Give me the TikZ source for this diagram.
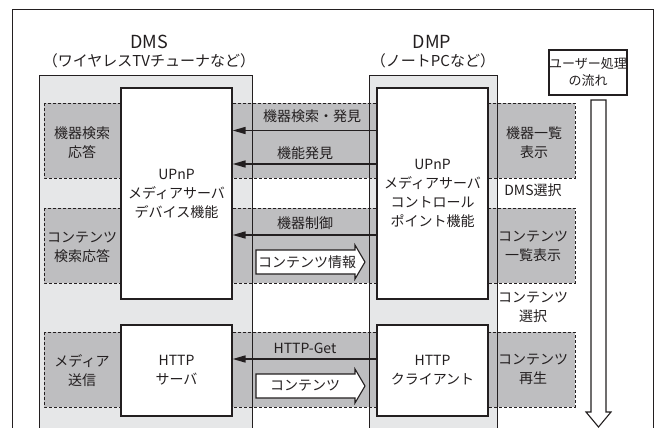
\documentclass[tikz,border=0pt]{standalone}
\usepackage{fontspec}
\setmainfont{Noto Sans CJK JP}
\usetikzlibrary{arrows.meta}
\definecolor{ink}{RGB}{35,31,32}
\definecolor{boxgray}{RGB}{230,231,232}
\definecolor{bandgray}{RGB}{190,190,192}
\tikzset{
  txt/.style={font=\fontsize{14}{19}\selectfont, text=ink, align=center, inner sep=0pt},
  title/.style={font=\fontsize{18}{22}\selectfont, text=ink, inner sep=0pt},
  subtitle/.style={font=\fontsize{15}{19}\selectfont, text=ink, inner sep=0pt},
  container/.style={fill=boxgray},
  containerline/.style={draw=ink, line width=1pt},
  band/.style={fill=bandgray, draw=ink, line width=0.9pt, dash pattern=on 3pt off 2pt},
  whitebox/.style={draw=ink, fill=white, line width=1.2pt, txt, minimum width=111pt},
  arr/.style={draw=ink, line width=1.6pt, -{Triangle[length=13pt,width=7pt]}},
  hollow/.style={draw=ink, fill=white, line width=1.1pt, line join=miter},
}
\begin{document}
\begin{tikzpicture}[x=1pt,y=-1pt]
\useasboundingbox (0,0) rectangle (659,428);
\clip (0,0) rectangle (659,428);
% frame
\draw[draw=ink, line width=1pt, fill=white] (12,10) rectangle (653,450);
% containers
\fill[container] (39,76) rectangle (252,450);
\fill[container] (369,76) rectangle (497,450);
% bands
\filldraw[band] (44,103) rectangle (575,178);
\filldraw[band] (44,208) rectangle (575,283);
\filldraw[band] (44,332) rectangle (575,407);
% container outlines
\draw[containerline] (39,450) -- (39,76) -- (252,76) -- (252,450);
\draw[containerline] (369,450) -- (369,76) -- (497,76) -- (497,450);
% titles
\node[title] (dmsT) at (149,42) {DMS};
\node[subtitle] (dmsS) at (149,61) {（ワイヤレスTVチューナなど）};
\node[title] (dmpT) at (432,42) {DMP};
\node[subtitle] (dmpS) at (433,61) {（ノートPCなど）};
% white boxes
\node[whitebox, minimum height=211pt] (dmsU) at (176.5,193.5) {UPnP\\メディアサーバ\\デバイス機能};
\node[whitebox, minimum height=211pt] (dmpU) at (432.5,193.5) {UPnP\\メディアサーバ\\コントロール\\ポイント機能};
\node[whitebox, minimum height=91pt] (dmsH) at (176.5,370.5) {HTTP\\サーバ};
\node[whitebox, minimum height=91pt] (dmpH) at (432.5,370.5) {HTTP\\クライアント};
% left side labels
\node[txt] (l1) at (82,143) {機器検索\\応答};
\node[txt] (l2) at (82,247) {コンテンツ\\検索応答};
\node[txt] (l3) at (82,371) {メディア\\送信};
% right side labels
\node[txt] (r1) at (534,143) {機器一覧\\表示};
\node[txt] (r2) at (533,190) {DMS選択};
\node[txt] (r3) at (533,246) {コンテンツ\\一覧表示};
\node[txt] (r4) at (533,307) {コンテンツ\\選択};
\node[txt] (r5) at (533,369) {コンテンツ\\再生};
% arrows
\coordinate (y1) at (0,130.5);
\coordinate (y2) at (0,164);
\coordinate (y3) at (0,235);
\coordinate (y4) at (0,359);
\draw[arr] (dmpU.west |- y1) -- (dmsU.east |- y1);
\draw[arr] (dmpU.west |- y2) -- (dmsU.east |- y2);
\draw[arr] (dmpU.west |- y3) -- (dmsU.east |- y3);
\draw[arr] (dmpH.west |- y4) -- (dmsH.east |- y4);
\node[txt] (a1) at (312,116) {機器検索・発見};
\node[txt] (a2) at (305,153) {機能発見};
\node[txt] (a3) at (305,223) {機器制御};
\node[txt] (a4) at (305,348) {HTTP-Get};
% hollow arrows
\draw[hollow] (256,250) -- (355,250) -- (355,245) -- (365,262) -- (355,279) -- (355,274) -- (256,274) -- cycle;
\node[txt] (h1) at (307,262) {コンテンツ情報};
\draw[hollow] (256,374) -- (355,374) -- (355,369) -- (365,386) -- (355,403) -- (355,398) -- (256,398) -- cycle;
\node[txt] (h2) at (305,386) {コンテンツ};
% user flow
\node[draw=ink, line width=1.1pt, fill=white, font=\fontsize{13}{17}\selectfont, text=ink, align=center, inner sep=0pt, minimum width=78pt, minimum height=45pt] (flow) at (588,72.5) {ユーザー処理\\の流れ};
\draw[hollow] (591,100) -- (606,100) -- (606,412) -- (611,412) -- (598.5,427) -- (586,412) -- (591,412) -- cycle;
\end{tikzpicture}
\end{document}
